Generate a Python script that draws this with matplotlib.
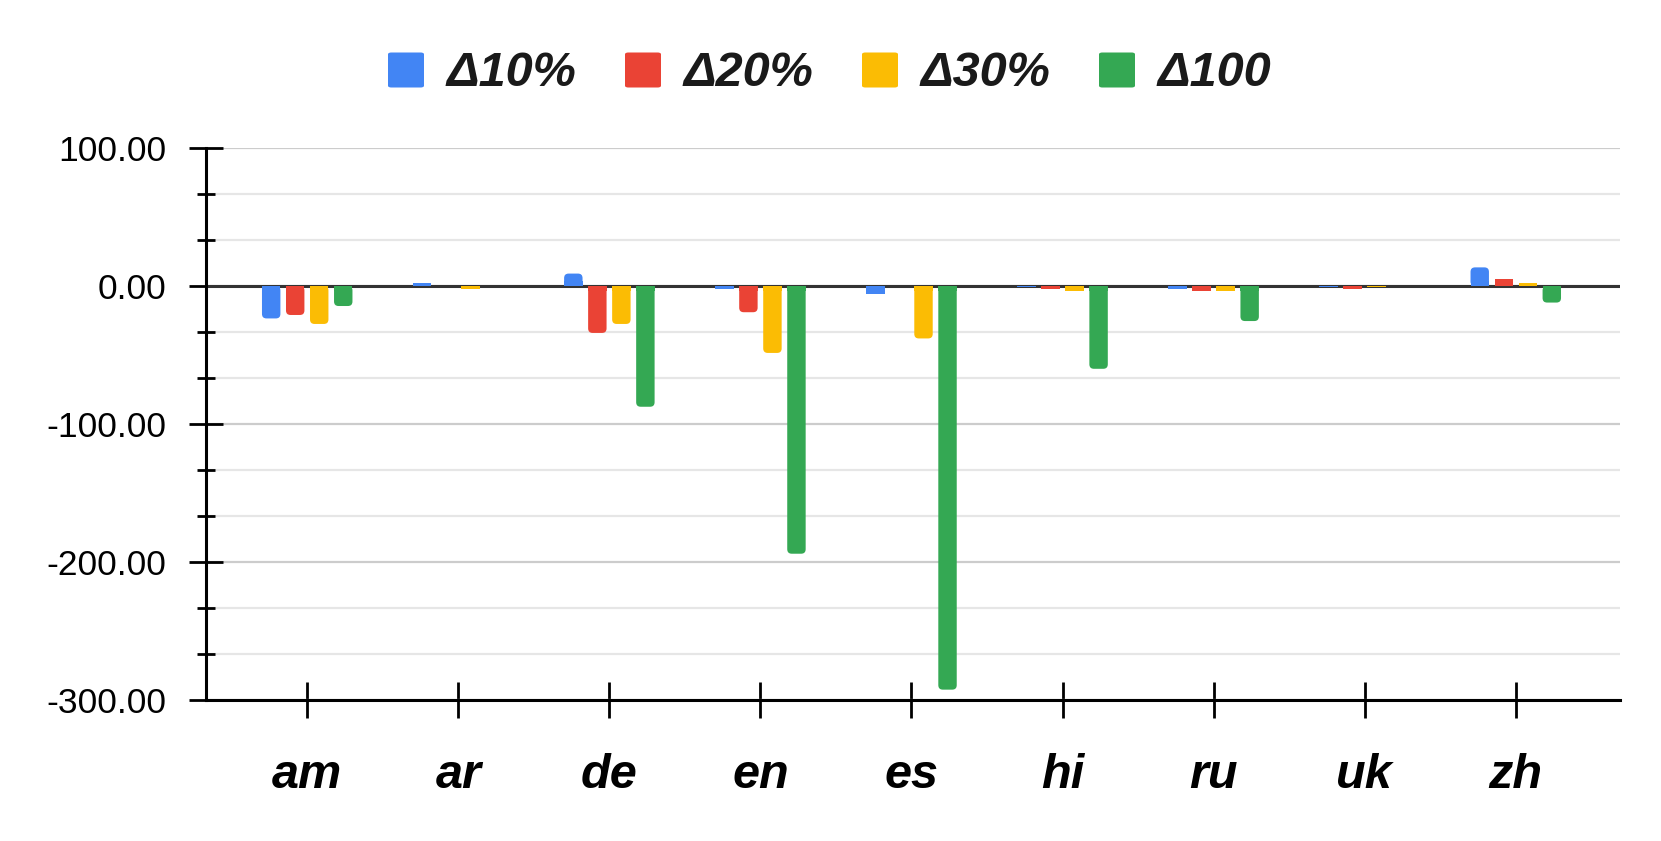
import matplotlib
matplotlib.use("Agg")
import matplotlib.pyplot as plt
from matplotlib.patches import FancyBboxPatch, Rectangle
from matplotlib.ticker import MultipleLocator, FuncFormatter
import numpy as np

plt.rcParams['font.family'] = ['Liberation Sans', 'DejaVu Sans']

categories = ["am", "ar", "de", "en", "es", "hi", "ru", "uk", "zh"]
series_names = ["Δ10%", "Δ20%", "Δ30%", "Δ100"]
colors = ["#4285F4", "#EA4335", "#FBBC04", "#34A853"]
d10 = [-23.5, 2.5, 9.0, -2.0, -5.8, -0.5, -2.0, -0.5, 13.5]
d20 = [-21.0, 0.0, -34.0, -19.0, 0.0, -2.0, -3.6, -2.0, 4.9]
d30 = [-27.5, -2.2, -27.5, -48.5, -38.0, -3.6, -3.6, -0.5, 2.5]
d100 = [-14.5, 0.0, -87.5, -194.0, -292.5, -60.0, -25.4, 0.0, -12.0]
series = [d10, d20, d30, d100]

W, H = 1661, 841
fig = plt.figure(figsize=(W / 100, H / 100), dpi=100)
ax_l, ax_r, ax_t, ax_b = 206, 1620, 148, 700
ax = fig.add_axes([ax_l / W, 1 - ax_b / H, (ax_r - ax_l) / W, (ax_b - ax_t) / H])

xmin, xmax = -0.67, len(categories) - 1 + 0.69
ymin, ymax = -300, 100
ax.set_xlim(xmin, xmax)
ax.set_ylim(ymin, ymax)

x = np.arange(len(categories))
step = 0.159
bw = 0.122
px_per_x = (ax_r - ax_l) / (xmax - xmin)
px_per_y = (ax_b - ax_t) / (ymax - ymin)
r_px = 4.5
r_x = r_px / px_per_x
aspect = px_per_x / px_per_y
r_y = r_x * aspect

for i, (vals, c) in enumerate(zip(series, colors)):
    offs = (i - 1.5) * step
    bars = ax.bar(x + offs, vals, width=bw, color=c, zorder=5)
    for rect in bars:
        bx, by = rect.get_x(), rect.get_y()
        bwid, bh = rect.get_width(), rect.get_height()
        if abs(bh) * px_per_y > 2.2 * r_px:
            rect.set_visible(False)
            y0 = min(by, by + bh)
            fb = FancyBboxPatch((bx, y0), bwid, abs(bh),
                                boxstyle=f"round,pad=0,rounding_size={r_x}",
                                mutation_aspect=aspect, facecolor=c,
                                edgecolor='none', zorder=5)
            ax.add_patch(fb)
            sgn = 1 if bh > 0 else -1
            ax.add_patch(Rectangle((bx, 0), bwid, sgn * r_y * 1.2,
                                   facecolor=c, edgecolor='none', zorder=5))

# grid
ax.yaxis.set_major_locator(MultipleLocator(100))
ax.yaxis.set_minor_locator(MultipleLocator(100 / 3))
ax.grid(axis='y', which='major', color='#cccccc', linewidth=1.6, zorder=0)
ax.grid(axis='y', which='minor', color='#e6e6e6', linewidth=1.6, zorder=0)
ax.axhline(0, color='#333333', linewidth=2.2, zorder=4)

for s in ['top', 'right']:
    ax.spines[s].set_visible(False)
for s in ['left', 'bottom']:
    ax.spines[s].set_color('black')
    ax.spines[s].set_linewidth(2.2)
    ax.spines[s].set_zorder(6)

ax.set_xticks(x)
ax.set_xticklabels(categories, fontsize=35, fontweight='bold', fontstyle='italic')
ax.tick_params(axis='x', direction='inout', length=26, width=2.0, pad=25, colors='black')
ax.yaxis.set_major_formatter(FuncFormatter(lambda v, p: f"{v:.2f}"))
ax.tick_params(axis='y', which='major', direction='inout', length=25, width=2.0,
               pad=16, labelsize=25.5)
ax.tick_params(axis='y', which='minor', direction='inout', length=13, width=2.0)

# legend
sq_x0 = 388
sq_step = 237
sq_w, sq_h = 36, 35
ly = 70
for i, (name, c) in enumerate(zip(series_names, colors)):
    sx = sq_x0 + i * sq_step
    p = FancyBboxPatch((sx / W, 1 - (ly + sq_h / 2) / H), sq_w / W, sq_h / H,
                       boxstyle="round,pad=0,rounding_size=0.002",
                       transform=fig.transFigure, facecolor=c, edgecolor='none')
    fig.add_artist(p)
    fig.text((sx + sq_w + 23) / W, 1 - (ly + 3) / H, name, fontsize=35,
             fontweight='bold', fontstyle='italic', va='center', ha='left',
             color='#1a1a1a')

fig.savefig("out.png", dpi=100)
